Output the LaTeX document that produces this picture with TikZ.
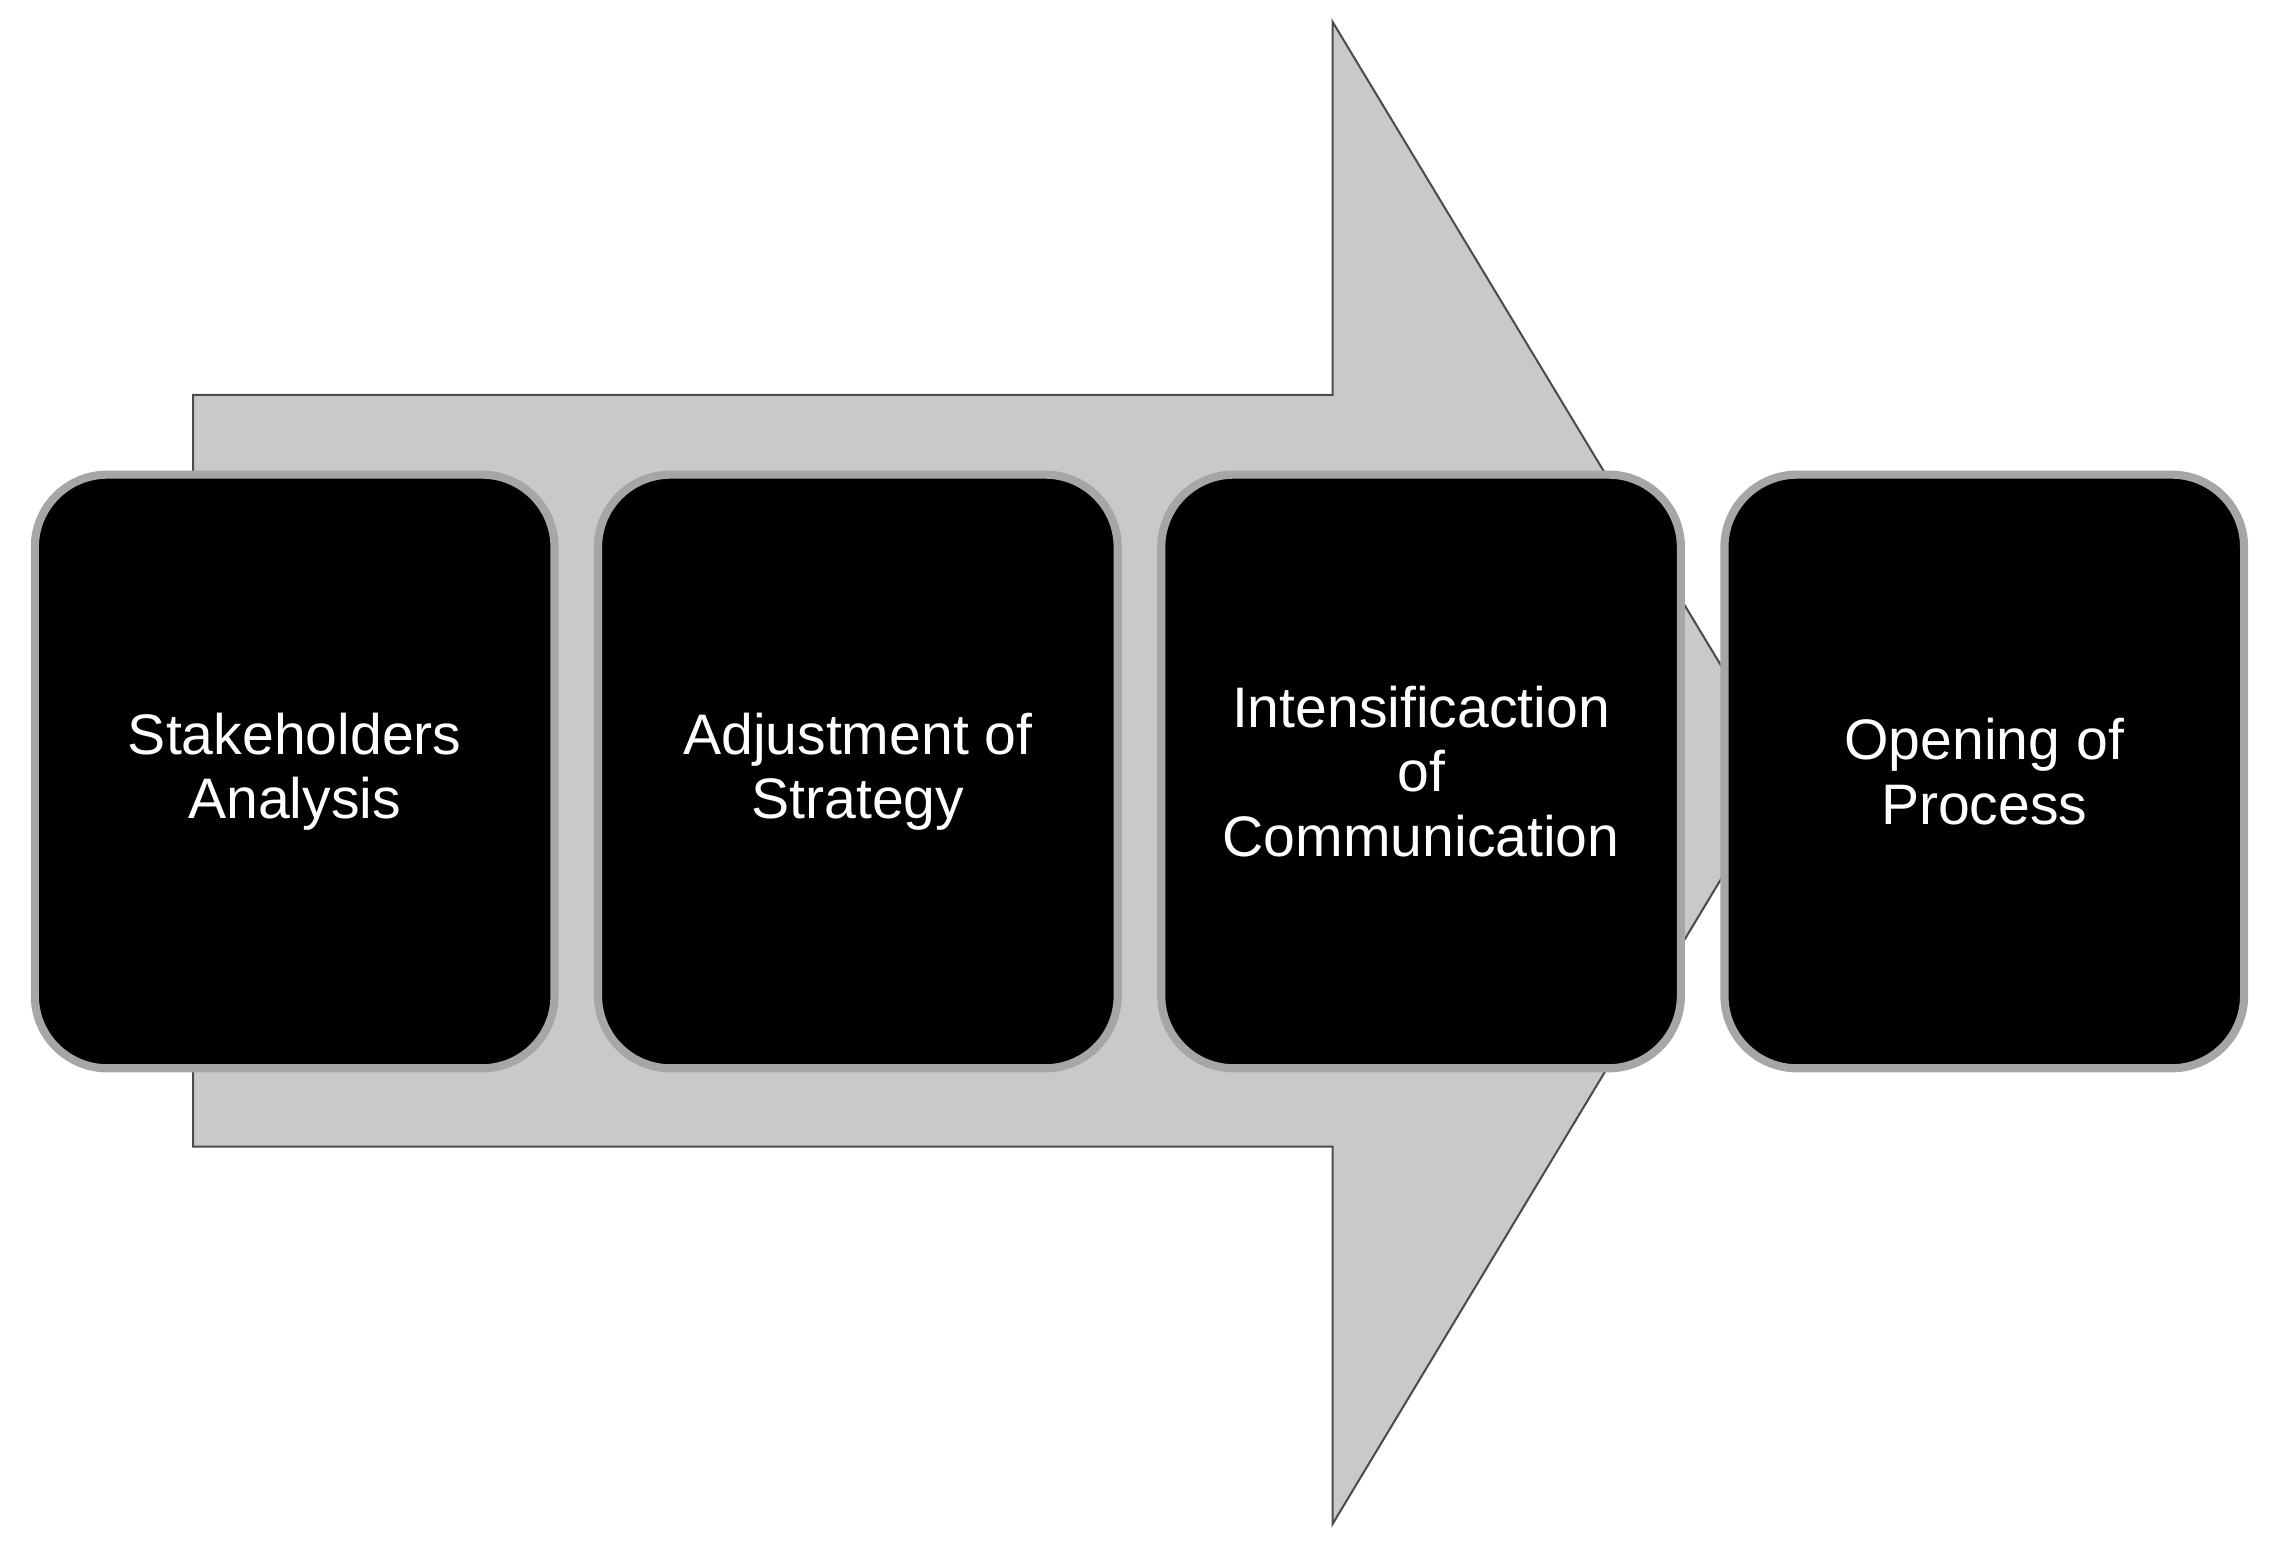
\documentclass[tikz,border=0pt]{standalone}
\usepackage{fontspec}
\setmainfont{Liberation Sans}
\begin{document}
\begin{tikzpicture}
    \tikzstyle{phase}=[draw=black!35, line width=1.6pt, fill=black, rounded corners=0.5cm,
        minimum width=3.58cm, minimum height=4.09cm, text=white, align=center,
        font=\fontsize{11.2}{12.6}\selectfont]
    \useasboundingbox (0,0) rectangle (15.68,10.69);
    \draw [black!70, fill=black!21] (1.33,7.97) -- (9.18,7.97) -- (9.18,10.54) -- (12.30,5.37)
        -- (9.18,0.19) -- (9.18,2.79) -- (1.33,2.79) -- cycle;
    \node [phase] (stake) at (2.03,5.375) {Stakeholders\\Analysis};
    \node [phase] (adjust) at (5.91,5.375) {Adjustment of\\Strategy};
    \node [phase] (intens) at (9.79,5.375) {Intensificaction\\of\\Communication};
    \node [phase] (open) at (13.67,5.375) {Opening of\\Process};
\end{tikzpicture}
\end{document}
